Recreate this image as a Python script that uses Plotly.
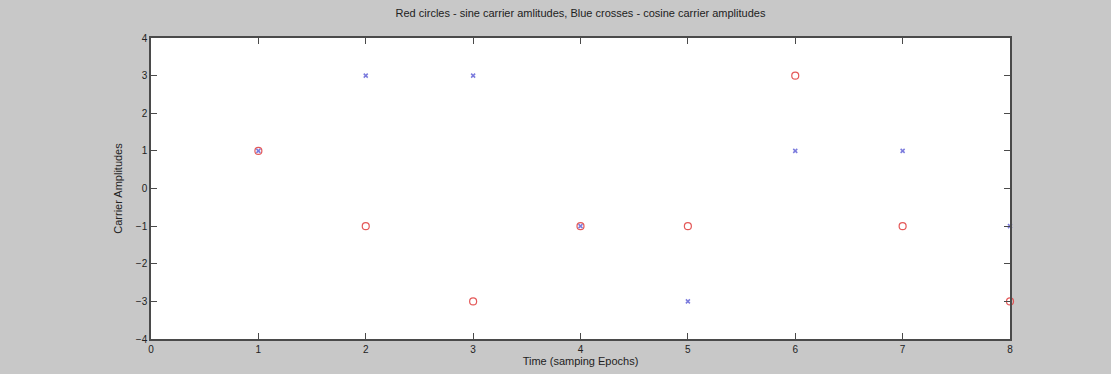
import plotly.graph_objects as go

# Sampling epochs and the carrier amplitudes at each epoch
epochs = [1, 2, 3, 4, 5, 6, 7, 8]
sine_amplitudes = [1, -1, -3, -1, -1, 3, -1, -3]
cosine_amplitudes = [1, 3, 3, -1, -3, 1, 1, -1]

x_ticks = [0, 1, 2, 3, 4, 5, 6, 7, 8]
y_ticks = [-4, -3, -2, -1, 0, 1, 2, 3, 4]

fig = go.Figure()

fig.add_trace(go.Scatter(
    x=epochs, y=sine_amplitudes, mode="markers",
    marker=dict(symbol="circle-open", size=7, color="rgba(225,70,70,0.9)",
                line=dict(width=1.2)),
    cliponaxis=False, showlegend=False,
))
fig.add_trace(go.Scatter(
    x=epochs, y=cosine_amplitudes, mode="markers",
    marker=dict(symbol="x-thin-open", size=4, color="rgba(100,100,215,0.85)",
                line=dict(width=1.5, color="rgba(100,100,215,0.85)")),
    cliponaxis=False, showlegend=False,
))

axis_common = dict(
    showgrid=False, zeroline=False, showline=True, mirror="ticks",
    linecolor="#4a4a4a", linewidth=1.5,
    ticks="inside", ticklen=6, tickwidth=1, tickcolor="#4a4a4a",
    tickfont=dict(family="Liberation Sans, Arial, sans-serif", size=10, color="#222"),
)

fig.update_layout(
    width=1111, height=374,
    margin=dict(l=151, r=101, t=38, b=35),
    paper_bgcolor="#c8c8c8", plot_bgcolor="#ffffff",
    font=dict(family="Liberation Sans, Arial, sans-serif", size=11, color="#222"),
    title=dict(text="Red circles - sine carrier amlitudes, Blue crosses - cosine carrier amplitudes",
               x=0.5225, xanchor="center", y=0.965, yanchor="middle",
               font=dict(size=11)),
    xaxis=dict(axis_common, range=[0, 8], tickvals=x_ticks,
               title=dict(text="Time (samping Epochs)", standoff=1, font=dict(size=11))),
    yaxis=dict(axis_common, range=[-4, 4], tickvals=y_ticks,
               title=dict(text="Carrier Amplitudes", standoff=11, font=dict(size=11))),
)

fig.write_html("out.html")
